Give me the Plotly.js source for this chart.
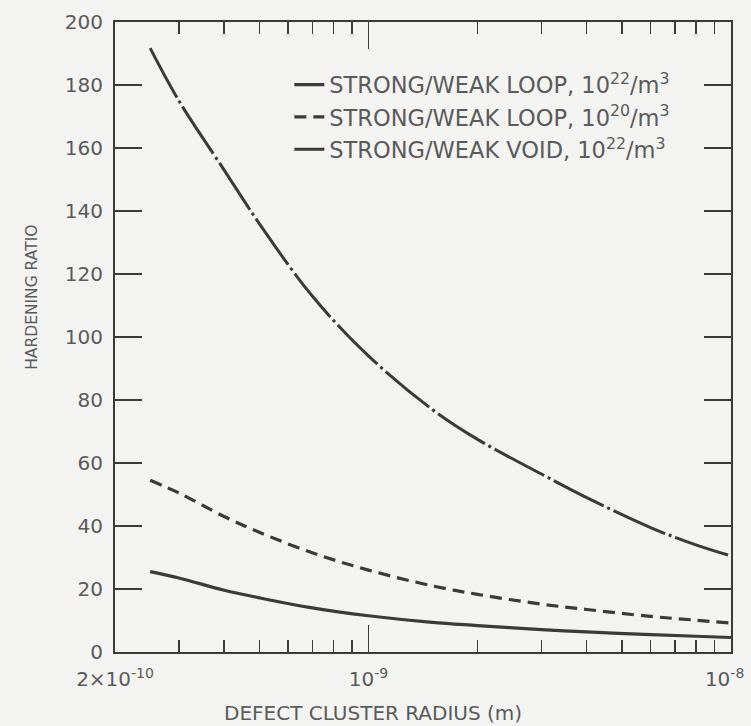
<!DOCTYPE html>
<html>
<head>
<meta charset="utf-8">
<script src="https://cdn.plot.ly/plotly-3.0.1.min.js"></script>
<style>
  html, body { margin: 0; padding: 0; background: #f3f3f1; }
  #chart { width: 751px; height: 726px; }
</style>
</head>
<body>
<div id="chart"></div>
<script>
// Defect cluster radius (m)
const radius = [2.5e-10, 3e-10, 4e-10, 5e-10, 7e-10, 1e-9, 1.5e-9, 2e-9, 3e-9, 4e-9, 6e-9, 8e-9, 1e-8];

// Hardening ratio for each case
const loop22 = [25.5, 23.5, 19.6, 17.2, 14.0, 11.5, 9.4, 8.4, 7.1, 6.4, 5.5, 5.0, 4.6];
const loop20 = [54.5, 50.5, 43.0, 38.0, 31.5, 26.0, 21.0, 18.3, 15.2, 13.5, 11.3, 10.1, 9.2];
const void22 = [191.7, 175.0, 153.0, 136.0, 113.0, 94.0, 77.0, 67.5, 56.5, 49.0, 39.5, 34.0, 30.5];

const seriesNames = [
  'STRONG/WEAK LOOP, 10<sup>22</sup>/m<sup>3</sup>',
  'STRONG/WEAK LOOP, 10<sup>20</sup>/m<sup>3</sup>',
  'STRONG/WEAK VOID, 10<sup>22</sup>/m<sup>3</sup>'
];

// Axis ticks and labels (the last label is padded so it stays inside the page)
const xMajor = [2e-10, 1e-9, 1e-8];
const xMajorText = ['2\u00d710<sup>-10</sup>', '10<sup>-9</sup>', '10<sup>-8</sup>\u00a0\u00a0'];
const xMinor = [3e-10, 4e-10, 5e-10, 6e-10, 7e-10, 8e-10, 9e-10,
                2e-9, 3e-9, 4e-9, 5e-9, 6e-9, 7e-9, 8e-9, 9e-9];

const ink = '#3a3a3a';
const textInk = '#5a5a5a';
const font = 'DejaVu Sans, Liberation Sans, sans-serif';
const eps = 1e-4;

const traces = [
  { x: radius, y: loop22, name: seriesNames[0], mode: 'lines',
    line: { color: ink, width: 3.2, shape: 'spline' } },
  { x: radius, y: loop20, name: seriesNames[1], mode: 'lines',
    line: { color: ink, width: 3.2, dash: '12px,7px', shape: 'spline' } },
  { x: radius, y: void22, name: seriesNames[2], mode: 'lines',
    line: { color: ink, width: 3.0, dash: '56px,4px,3px,4px', shape: 'spline' } }
];

const layout = {
  width: 751, height: 726,
  margin: { l: 115, r: 20, t: 22, b: 74 },
  paper_bgcolor: '#f3f3f1',
  plot_bgcolor: '#f3f3f1',
  font: { family: font, color: textInk, size: 20 },
  showlegend: true,
  legend: {
    x: 0.283, y: 0.934, xanchor: 'left', yanchor: 'top',
    bgcolor: 'rgba(0,0,0,0)', borderwidth: 0,
    font: { family: font, size: 22.5, color: textInk },
    itemwidth: 30, tracegroupgap: 0
  },
  xaxis: {
    type: 'log',
    range: [Math.log10(2e-10) - eps, Math.log10(1e-8) + eps],
    showgrid: false, zeroline: false,
    showline: true, linecolor: ink, linewidth: 2, mirror: 'ticks',
    ticks: 'inside', ticklen: 27, tickwidth: 1.5, tickcolor: ink,
    tickmode: 'array', tickvals: xMajor, ticktext: xMajorText,
    tickfont: { family: font, size: 20, color: textInk },
    ticklabelstandoff: 8,
    ticklabeloverflow: 'allow',
    minor: { tickmode: 'array', tickvals: xMinor, ticks: 'inside',
             ticklen: 12, tickwidth: 1.5, tickcolor: ink, showgrid: false }
  },
  yaxis: {
    range: [0, 200],
    showgrid: false, zeroline: false,
    showline: true, linecolor: ink, linewidth: 2, mirror: 'ticks',
    ticks: 'inside', ticklen: 27, tickwidth: 1.5, tickcolor: ink,
    tickmode: 'linear', tick0: 0, dtick: 20,
    tickfont: { family: font, size: 20, color: textInk },
    ticklabelstandoff: 6
  },
  annotations: [
    { text: 'HARDENING RATIO', xref: 'paper', yref: 'paper',
      x: -0.135, y: 0.5635, xanchor: 'center', yanchor: 'middle',
      textangle: -90, showarrow: false,
      font: { family: font, size: 15.5, color: textInk } },
    { text: 'DEFECT CLUSTER RADIUS (m)', xref: 'paper', yref: 'paper',
      x: 0.419, y: -0.097, xanchor: 'center', yanchor: 'middle',
      showarrow: false,
      font: { family: font, size: 20, color: textInk } }
  ]
};

Plotly.newPlot('chart', traces, layout, { displayModeBar: false, staticPlot: true });
</script>
</body>
</html>
